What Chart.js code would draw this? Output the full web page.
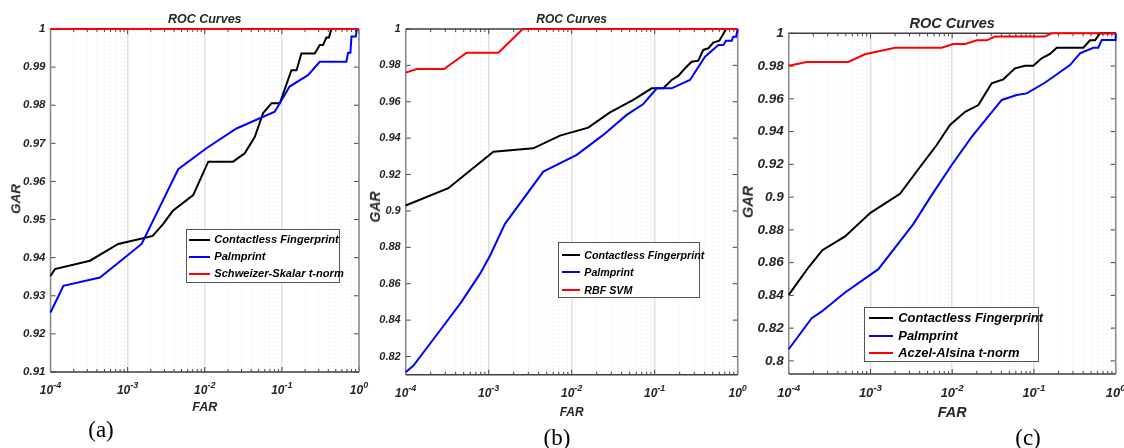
<!DOCTYPE html>
<html>
<head>
<meta charset="utf-8">
<script src="https://cdn.jsdelivr.net/npm/chart.js@4.4.0/dist/chart.umd.min.js"></script>
<style>
  body { margin: 0; width: 1124px; height: 448px; background: #fff; position: relative; overflow: hidden;
         font-family: "Liberation Sans", Arial, sans-serif; }
  canvas { position: absolute; top: 0; }
  .t { position: absolute; font-weight: bold; font-style: italic; color: #262626; white-space: nowrap;
       line-height: 1; transform: translate(-50%, -50%); }
  .cap { position: absolute; font-family: "Liberation Serif", "Times New Roman", serif; color: #000;
         line-height: 1; transform: translate(-50%, -50%); }
  .leg { position: absolute; border: 1px solid #555; background: #fff; box-sizing: border-box; }
  .leg .smp { position: absolute; height: 0; border-top: 2px solid; }
  .leg .lbl { position: absolute; font-weight: bold; font-style: italic; color: #000; white-space: nowrap;
              line-height: 1; transform: translateY(-50%); }
</style>
</head>
<body>
<script>
const xDecades = [1e-4, 1e-3, 1e-2, 1e-1, 1];
const colors = ['#000000', '#0000ff', '#ff0000'];

// (a)
const labelsA = ['Contactless Fingerprint', 'Palmprint', 'Schweizer-Skalar t-norm'];
const yTicksA = [0.91, 0.92, 0.93, 0.94, 0.95, 0.96, 0.97, 0.98, 0.99, 1];
const aFingerFar = [1e-4, 1.14e-4, 3.25e-4, 7.55e-4, 1.44e-3, 2.11e-3, 2.88e-3, 3.86e-3, 7.08e-3, 1.11e-2, 2.33e-2, 3.30e-2, 4.46e-2, 5.70e-2, 7.33e-2, 9.40e-2, 0.133, 0.155, 0.179, 0.267, 0.310, 0.342, 0.378, 0.408, 0.439, 1];
const aFingerGar = [0.9352, 0.937, 0.9392, 0.9436, 0.9449, 0.9457, 0.9488, 0.9523, 0.9564, 0.9652, 0.9652, 0.9674, 0.9717, 0.9779, 0.9805, 0.9805, 0.9892, 0.9892, 0.9936, 0.9936, 0.9958, 0.9958, 0.9978, 0.9978, 1, 1];
const aPalmFar = [1e-4, 1.47e-4, 4.38e-4, 1.52e-3, 4.53e-3, 1.05e-2, 2.58e-2, 8.09e-2, 0.126, 0.218, 0.310, 0.687, 0.721, 0.774, 0.798, 0.906, 0.942, 1];
const aPalmGar = [0.9256, 0.9326, 0.9348, 0.9436, 0.9632, 0.9687, 0.9739, 0.9783, 0.9849, 0.9879, 0.9914, 0.9914, 0.9938, 0.9938, 0.998, 0.998, 1, 1];
const aFusionFar = [1e-4, 1];
const aFusionGar = [1, 1];

// (b)
const labelsB = ['Contactless Fingerprint', 'Palmprint', 'RBF SVM'];
const yTicksB = [0.82, 0.84, 0.86, 0.88, 0.9, 0.92, 0.94, 0.96, 0.98, 1];
const bFingerFar = [1e-4, 3.26e-4, 1.14e-3, 3.44e-3, 7.23e-3, 1.58e-2, 2.89e-2, 5.52e-2, 9.20e-2, 0.127, 0.160, 0.192, 0.232, 0.279, 0.335, 0.385, 0.443, 0.508, 0.600, 0.659, 0.724, 1];
const bFingerGar = [0.903, 0.9125, 0.9326, 0.9344, 0.9414, 0.9458, 0.9542, 0.961, 0.9674, 0.9674, 0.972, 0.9742, 0.9784, 0.982, 0.9826, 0.9885, 0.9894, 0.9925, 0.9936, 0.9967, 1, 1];
const bPalmFar = [1e-4, 1.24e-4, 2.59e-4, 4.60e-4, 7.85e-4, 1.04e-3, 1.57e-3, 4.55e-3, 1.15e-2, 2.40e-2, 4.60e-2, 7.29e-2, 0.106, 0.160, 0.266, 0.404, 0.585, 0.671, 0.723, 0.847, 0.885, 0.955, 1];
const bPalmGar = [0.8114, 0.815, 0.8343, 0.8495, 0.8654, 0.8755, 0.8929, 0.9216, 0.9308, 0.9418, 0.9528, 0.9588, 0.9674, 0.9674, 0.972, 0.9848, 0.9912, 0.9912, 0.9936, 0.9936, 0.9958, 0.9958, 1];
const bFusionFar = [1e-4, 1.36e-4, 2.89e-4, 5.43e-4, 1.31e-3, 2.57e-3, 1];
const bFusionGar = [0.976, 0.978, 0.978, 0.987, 0.987, 1, 1];

// (c)
const labelsC = ['Contactless Fingerprint', 'Palmprint', 'Aczel-Alsina t-norm'];
const yTicksC = [0.8, 0.82, 0.84, 0.86, 0.88, 0.9, 0.92, 0.94, 0.96, 0.98, 1];
const cFingerFar = [1e-4, 1.74e-4, 2.58e-4, 4.89e-4, 1.0e-3, 2.30e-3, 3.85e-3, 6.46e-3, 9.40e-3, 1.44e-2, 2.09e-2, 3.04e-2, 4.22e-2, 5.86e-2, 7.78e-2, 9.82e-2, 0.124, 0.157, 0.190, 0.402, 0.485, 0.558, 0.643, 1];
const cFingerGar = [0.8403, 0.857, 0.8676, 0.8760, 0.8904, 0.9020, 0.9170, 0.9318, 0.944, 0.9521, 0.9562, 0.9695, 0.9719, 0.9786, 0.9802, 0.9802, 0.9847, 0.9874, 0.9912, 0.9912, 0.9957, 0.9957, 1, 1];
const cPalmFar = [1e-4, 1.91e-4, 2.54e-4, 4.89e-4, 1.25e-3, 3.34e-3, 5.61e-3, 9.86e-3, 1.73e-2, 4.04e-2, 6.15e-2, 8.15e-2, 0.136, 0.276, 0.366, 0.532, 0.612, 0.675, 0.999, 1];
const cPalmGar = [0.8071, 0.8261, 0.8302, 0.8418, 0.856, 0.8835, 0.9012, 0.9196, 0.9368, 0.9593, 0.9623, 0.9633, 0.9698, 0.9806, 0.9878, 0.9912, 0.9912, 0.9959, 0.9959, 1];
const cFusionFar = [1e-4, 1.66e-4, 5.36e-4, 8.57e-4, 2.0e-3, 7.45e-3, 1.03e-2, 1.44e-2, 2.0e-2, 2.64e-2, 3.34e-2, 0.136, 0.165, 1];
const cFusionGar = [0.9802, 0.9825, 0.9825, 0.9872, 0.9912, 0.9912, 0.9935, 0.9935, 0.9957, 0.9957, 0.998, 0.998, 1, 1];

const panels = [
  { x: 0, w: 372, left: 50.5, right: 359, top: 29, bottom: 372, yMin: 0.91, yTicks: yTicksA, labels: labelsA,
    series: [[aFingerFar, aFingerGar], [aPalmFar, aPalmGar], [aFusionFar, aFusionGar]],
    fs: 11.5, xfs: 12, titleFs: 12.5, titleY: 18.5, farFs: 12.5, farY: 407, garX: 15.7, garY: 199, garFs: 13.5, xBase: 393.5,
    cap: '(a)', capX: 101, capY: 429,
    leg: { x: 185.7, y: 229, w: 154.3, h: 54, s0: 2.3, s1: 23.3, tx: 27.6, rows: [10.7, 27.7, 45], fs: 11.1 } },
  { x: 370, w: 385, left: 405.7, right: 737.7, top: 29, bottom: 374.7, yMin: 0.81, yTicks: yTicksB, labels: labelsB,
    series: [[bFingerFar, bFingerGar], [bPalmFar, bPalmGar], [bFusionFar, bFusionGar]],
    fs: 11, xfs: 12, titleFs: 12, titleY: 19.3, farFs: 12, farY: 412, garX: 375, garY: 206.7, garFs: 14, xBase: 396.5,
    cap: '(b)', capX: 557, capY: 437,
    leg: { x: 557.7, y: 242.3, w: 142.3, h: 55.7, s0: 3, s1: 21.6, tx: 25.6, rows: [12.4, 30, 47.4], fs: 10.7 } },
  { x: 745, w: 379, left: 788.7, right: 1115.7, top: 33.3, bottom: 374, yMin: 0.792, yTicks: yTicksC, labels: labelsC,
    series: [[cFingerFar, cFingerGar], [cPalmFar, cPalmGar], [cFusionFar, cFusionGar]],
    fs: 13.5, xfs: 13, titleFs: 14.5, titleY: 22.7, farFs: 14.4, farY: 412, garX: 747.5, garY: 201.7, garFs: 14.5, xBase: 397,
    cap: '(c)', capX: 1028, capY: 437,
    leg: { x: 864.3, y: 306.7, w: 175, h: 55.6, s0: 4, s1: 27.4, tx: 33, rows: [11.3, 29, 46.3], fs: 12.9 } }
];

const isDecade = v => v > 0 && Math.abs(Math.log10(v) - Math.round(Math.log10(v))) < 1e-6;

const xGrid = [];
xDecades.forEach((d, i) => {
  if (i === xDecades.length - 1) { xGrid.push(d); return; }
  for (let k = 1; k <= 9; k++) xGrid.push(+(k * d).toPrecision(3));
});

const fontStack = '"Liberation Sans", Arial, sans-serif';

function addText(txt, x, y, fs, cls, rot) {
  const el = document.createElement('div');
  el.className = cls;
  el.textContent = txt;
  el.style.left = x + 'px';
  el.style.top = y + 'px';
  el.style.fontSize = fs + 'px';
  if (rot) el.style.transform = 'translate(-50%, -50%) rotate(-90deg)';
  document.body.appendChild(el);
}

// box, inward ticks and decade labels like the MATLAB axes
const axesFrame = {
  id: 'axesFrame',
  beforeDatasetsDraw(chart) {
    const { ctx, chartArea: a } = chart;
    const xs = chart.scales.x, ys = chart.scales.y;
    ctx.save();
    ctx.lineWidth = 1;
    ctx.strokeStyle = '#444';
    xs.ticks.forEach(t => {
      const px = xs.getPixelForValue(t.value);
      const len = isDecade(t.value) ? 5 : 3;
      ctx.beginPath();
      ctx.moveTo(px, a.bottom); ctx.lineTo(px, a.bottom - len);
      ctx.moveTo(px, a.top); ctx.lineTo(px, a.top + len);
      ctx.stroke();
    });
    ys.ticks.forEach(t => {
      const py = ys.getPixelForValue(t.value);
      ctx.beginPath();
      ctx.moveTo(a.left, py); ctx.lineTo(a.left + 5, py);
      ctx.moveTo(a.right, py); ctx.lineTo(a.right - 5, py);
      ctx.stroke();
    });
    ctx.lineWidth = 1.5;
    ctx.strokeStyle = '#8a8a8a';
    ctx.beginPath();
    ctx.moveTo(a.left, a.top); ctx.lineTo(a.left, a.bottom);
    ctx.moveTo(a.right, a.top); ctx.lineTo(a.right, a.bottom);
    ctx.stroke();
    ctx.strokeStyle = '#404040';
    ctx.beginPath();
    ctx.moveTo(a.left, a.bottom); ctx.lineTo(a.right, a.bottom);
    ctx.moveTo(a.left, a.top); ctx.lineTo(a.right, a.top);
    ctx.stroke();
    ctx.restore();
  },
  afterDraw(chart, args, opts) {
    const { ctx } = chart;
    const xs = chart.scales.x;
    ctx.save();
    ctx.fillStyle = '#262626';
    ctx.textBaseline = 'alphabetic';
    ctx.textAlign = 'left';
    xDecades.forEach(d => {
      const px = xs.getPixelForValue(d);
      const e = String(Math.round(Math.log10(d)));
      ctx.font = `italic bold ${opts.fs}px ${fontStack}`;
      const w1 = ctx.measureText('10').width;
      ctx.font = `italic bold ${opts.fs * 0.75}px ${fontStack}`;
      const w2 = ctx.measureText(e).width;
      const x0 = px - (w1 + w2) / 2;
      ctx.fillText(e, x0 + w1, opts.base - opts.fs * 0.45);
      ctx.font = `italic bold ${opts.fs}px ${fontStack}`;
      ctx.fillText('10', x0, opts.base);
    });
    ctx.restore();
  }
};

panels.forEach(p => {
  const cv = document.createElement('canvas');
  cv.width = p.w;
  cv.height = 448;
  cv.style.left = p.x + 'px';
  document.body.appendChild(cv);

  const xh = 20;
  new Chart(cv, {
    type: 'line',
    data: {
      datasets: p.series.map((s, i) => ({
        label: p.labels[i],
        data: s[0].map((f, j) => ({ x: f, y: s[1][j] })),
        borderColor: colors[i],
        borderWidth: 2,
        pointRadius: 0,
        tension: 0,
        clip: false,
        order: 2 - i
      }))
    },
    options: {
      responsive: false,
      animation: false,
      devicePixelRatio: 1,
      layout: { padding: { left: 0, top: p.top, right: p.x + p.w - p.right, bottom: 448 - p.bottom - xh } },
      plugins: {
        legend: { display: false },
        tooltip: { enabled: false },
        title: { display: false },
        axesFrame: { fs: p.xfs, base: p.xBase }
      },
      scales: {
        x: {
          type: 'logarithmic',
          min: 1e-4,
          max: 1,
          afterBuildTicks: s => { s.ticks = xGrid.map(v => ({ value: v })); },
          afterFit: s => { s.height = xh; },
          ticks: { display: false },
          grid: {
            drawTicks: false,
            color: c => (c.tick && isDecade(c.tick.value)) ? '#e0e0e0' : '#e4e4e4',
            lineWidth: c => (c.tick && isDecade(c.tick.value)) ? 1.5 : 1
          },
          border: { display: false, dash: c => (c.tick && !isDecade(c.tick.value)) ? [1, 3] : [] }
        },
        y: {
          min: p.yMin,
          max: 1,
          afterBuildTicks: s => { s.ticks = p.yTicks.map(v => ({ value: v })); },
          afterFit: s => { s.width = p.left - p.x; },
          ticks: {
            padding: 5,
            color: '#262626',
            font: { family: fontStack, size: p.fs, weight: 'bold', style: 'italic' },
            callback: v => String(+Number(v).toFixed(3))
          },
          grid: { drawOnChartArea: false, drawTicks: false },
          border: { display: false }
        }
      }
    },
    plugins: [axesFrame]
  });

  const cx = (p.left + p.right) / 2;
  addText('ROC Curves', cx, p.titleY, p.titleFs, 't');
  addText('FAR', cx, p.farY, p.farFs, 't');
  addText('GAR', p.garX, p.garY, p.garFs, 't', true);
  addText(p.cap, p.capX, p.capY, 23, 'cap');

  const lg = document.createElement('div');
  lg.className = 'leg';
  Object.assign(lg.style, { left: p.leg.x + 'px', top: p.leg.y + 'px', width: p.leg.w + 'px', height: p.leg.h + 'px' });
  p.labels.forEach((name, i) => {
    const smp = document.createElement('div');
    smp.className = 'smp';
    Object.assign(smp.style, { left: p.leg.s0 + 'px', width: (p.leg.s1 - p.leg.s0) + 'px',
      top: (p.leg.rows[i] - 2) + 'px', borderTopColor: colors[i] });
    const lbl = document.createElement('div');
    lbl.className = 'lbl';
    lbl.textContent = name;
    Object.assign(lbl.style, { left: p.leg.tx + 'px', top: (p.leg.rows[i] - 1) + 'px', fontSize: p.leg.fs + 'px' });
    lg.appendChild(smp);
    lg.appendChild(lbl);
  });
  document.body.appendChild(lg);
});
</script>
</body>
</html>
